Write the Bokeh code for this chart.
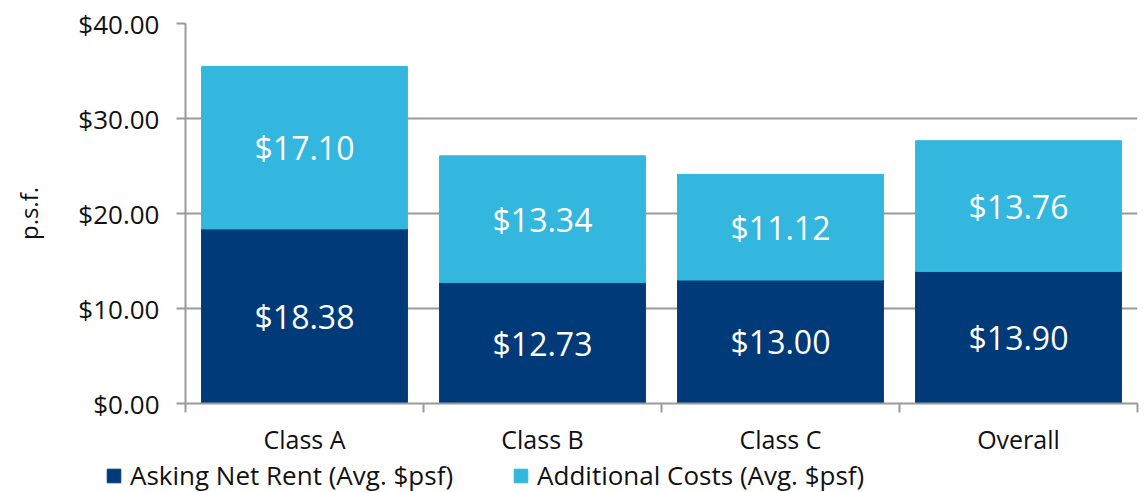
from bokeh.plotting import figure
from bokeh.layouts import column
from bokeh.models import (Range1d, FixedTicker, NumeralTickFormatter, Legend,
                          LegendItem, ColumnDataSource)
from bokeh.core.properties import value
from bokeh.embed import file_html
from bokeh.resources import INLINE

categories = ["Class A", "Class B", "Class C", "Overall"]
asking_net_rent = [18.38, 12.73, 13.00, 13.90]
additional_costs = [17.10, 13.34, 11.12, 13.76]
y_ticks = [0, 10, 20, 30, 40]
series_names = ["Asking Net Rent (Avg. $psf)", "Additional Costs (Avg. $psf)"]

NAVY = "#003A78"
CYAN = "#33B7DE"
GRID = "#9a9a9a"
FONT = "Open Sans"
TXT = "#111111"

xs = list(range(1, len(categories) + 1))
src = ColumnDataSource(dict(
    x=xs,
    asking=asking_net_rent,
    additional=additional_costs,
    asking_mid=[a / 2 for a in asking_net_rent],
    add_mid=[a + b / 2 for a, b in zip(asking_net_rent, additional_costs)],
    asking_lbl=["${:.2f}".format(a) for a in asking_net_rent],
    add_lbl=["${:.2f}".format(b) for b in additional_costs],
))

p = figure(width=1144, height=458, x_range=Range1d(0.5, len(categories) + 0.5),
           y_range=Range1d(0, 40), output_backend="svg", toolbar_location=None,
           min_border_left=185, min_border_right=7, min_border_top=23,
           min_border_bottom=55)
p.outline_line_color = None
p.frame_align = False

rs = p.vbar_stack(["asking", "additional"], x="x", width=0.865, source=src,
                  color=[NAVY, CYAN])

p.text(x="x", y="asking_mid", text="asking_lbl", source=src, text_color="white",
       text_font=value(FONT), text_font_size="32px", text_align="center",
       text_baseline="middle")
p.text(x="x", y="add_mid", text="add_lbl", source=src, text_color="white",
       text_font=value(FONT), text_font_size="32px", text_align="center",
       text_baseline="middle")

p.xgrid.grid_line_color = None
p.ygrid.grid_line_color = GRID
p.ygrid.grid_line_width = 2

p.yaxis.ticker = FixedTicker(ticks=y_ticks, minor_ticks=[])
p.yaxis.formatter = NumeralTickFormatter(format="$0.00")
p.yaxis.axis_line_color = GRID
p.yaxis.axis_line_width = 2
p.yaxis.major_tick_line_color = GRID
p.yaxis.major_tick_line_width = 2
p.yaxis.major_tick_out = 9
p.yaxis.major_tick_in = 0
p.yaxis.minor_tick_line_color = None
p.yaxis.major_label_text_font = FONT
p.yaxis.major_label_text_font_size = "26px"
p.yaxis.major_label_text_color = TXT
p.yaxis.major_label_standoff = 17
p.yaxis.axis_label = "p.s.f."
p.yaxis.axis_label_text_font = FONT
p.yaxis.axis_label_text_font_size = "24px"
p.yaxis.axis_label_text_font_style = "normal"
p.yaxis.axis_label_text_color = TXT
p.yaxis.axis_label_standoff = 30

p.xaxis.ticker = FixedTicker(ticks=xs, minor_ticks=[x - 0.5 for x in xs] + [xs[-1] + 0.5])
p.xaxis.major_label_overrides = {x: c for x, c in zip(xs, categories)}
p.xaxis.axis_line_color = GRID
p.xaxis.axis_line_width = 2
p.xaxis.major_tick_line_color = None
p.xaxis.major_tick_out = 0
p.xaxis.major_tick_in = 0
p.xaxis.minor_tick_line_color = GRID
p.xaxis.minor_tick_line_width = 2
p.xaxis.minor_tick_out = 9
p.xaxis.minor_tick_in = 0
p.xaxis.major_label_text_font = FONT
p.xaxis.major_label_text_font_size = "25px"
p.xaxis.major_label_text_color = TXT
p.xaxis.major_label_standoff = 9

# legend strip below the chart (its own bars sit outside its visible range)
lg = figure(width=1144, height=34, x_range=Range1d(-20, -19), y_range=Range1d(0, 1),
            output_backend="svg", toolbar_location=None,
            min_border_left=0, min_border_right=0, min_border_top=0,
            min_border_bottom=0)
lg.frame_align = False
lg.outline_line_color = None
lg.axis.visible = False
lg.grid.grid_line_color = None
lrs = lg.vbar_stack(["asking", "additional"], x="x", width=0.865, source=src,
                    color=[NAVY, CYAN])

legend = Legend(items=[
    LegendItem(label=series_names[0], renderers=[lrs[0]]),
    LegendItem(label=series_names[1], renderers=[lrs[1]]),
], orientation="horizontal", location=(105, -1))
legend.label_text_font = FONT
legend.label_text_font_size = "26px"
legend.label_text_color = TXT
legend.glyph_width = 17
legend.glyph_height = 17
legend.label_standoff = 8
legend.spacing = 59
legend.padding = 0
legend.margin = 0
legend.border_line_color = None
legend.background_fill_alpha = 0
lg.add_layout(legend)

layout = column(p, lg, spacing=0)
open("out.html", "w").write(file_html(layout, INLINE))
